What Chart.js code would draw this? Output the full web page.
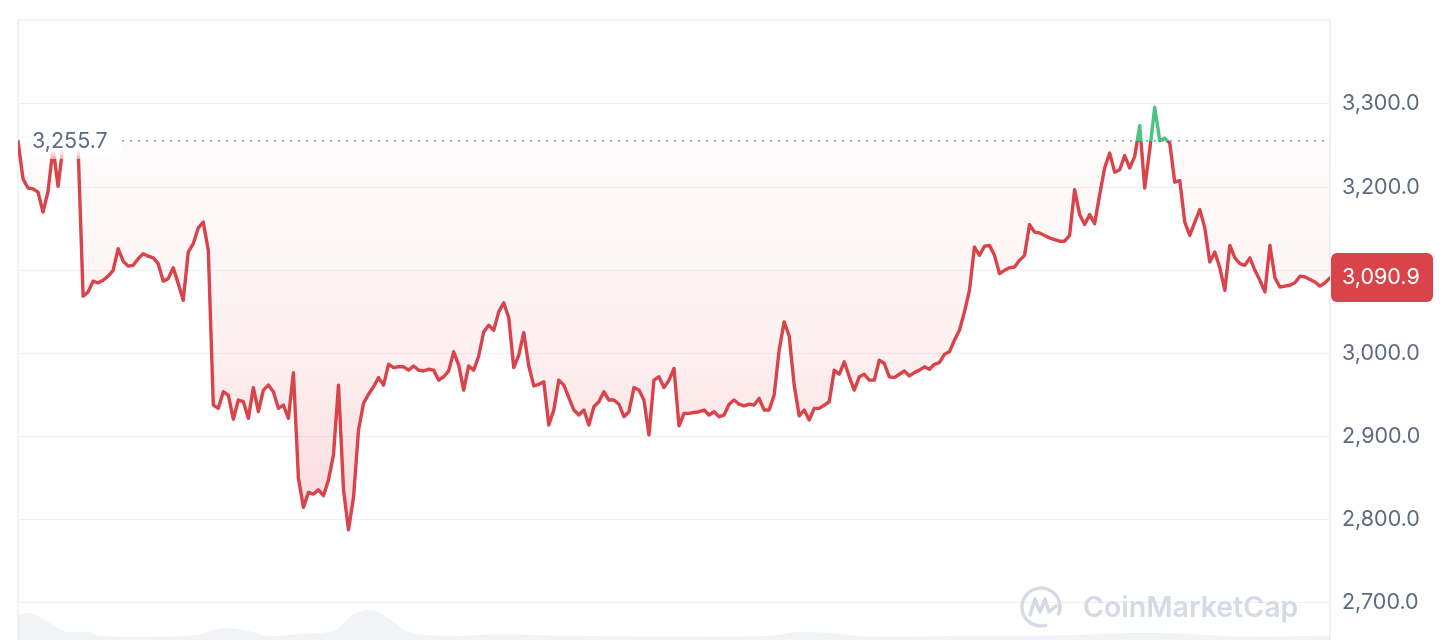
<!DOCTYPE html>
<html>
<head>
<meta charset="utf-8">
<script src="https://cdn.jsdelivr.net/npm/chart.js@4.4.1/dist/chart.umd.min.js"></script>
<style>
html,body{margin:0;padding:0;background:#ffffff;}
#wrap{width:1443px;height:640px;position:relative;}
</style>
</head>
<body>
<div id="wrap"><canvas id="c"></canvas></div>
<script>
// ---- data ----
const prices = [
 3255,3210,3199,3198,3194,3170,3195,3247,3201,3250,
 3252,3251,3248,3069,3074,3087,3085,3088,3093,3100,
 3126,3111,3105,3106,3114,3120,3117,3115,3108,3087,
 3090,3103,3084,3064,3122,3132,3151,3158,3124,2938,
 2934,2954,2950,2921,2944,2942,2922,2959,2930,2956,
 2962,2954,2934,2938,2922,2977,2850,2815,2833,2831,
 2836,2829,2848,2878,2962,2836,2788,2827,2908,2940,
 2951,2960,2971,2962,2987,2983,2984,2984,2980,2985,
 2980,2979,2981,2980,2968,2972,2979,3002,2986,2956,
 2985,2980,2997,3026,3034,3028,3050,3061,3043,2983,
 2998,3025,2985,2961,2963,2966,2914,2932,2968,2962,
 2947,2932,2926,2932,2914,2936,2942,2954,2944,2944,
 2939,2924,2930,2959,2956,2944,2902,2968,2972,2959,
 2968,2982,2913,2928,2928,2929,2930,2932,2926,2930,
 2924,2926,2939,2944,2939,2937,2939,2938,2946,2932,
 2932,2950,3004,3038,3021,2962,2925,2932,2920,2934,
 2934,2938,2942,2980,2975,2990,2972,2956,2972,2975,
 2968,2968,2992,2988,2972,2971,2975,2979,2973,2977,
 2980,2984,2981,2987,2989,2999,3002,3016,3028,3050,
 3076,3128,3118,3129,3130,3118,3096,3100,3103,3104,
 3112,3118,3155,3146,3145,3142,3139,3137,3135,3135,
 3142,3197,3167,3155,3167,3156,3191,3223,3241,3218,
 3221,3238,3223,3237,3274,3199,3245,3296,3256,3259,
 3253,3206,3208,3158,3142,3158,3173,3151,3110,3122,
 3103,3076,3130,3115,3108,3106,3115,3100,3088,3074,
 3130,3091,3080,3081,3082,3085,3093,3092,3089,3086,
 3081,3085,3090.9
];
const baselinePrice = 3255.7;
const lastPrice = 3090.9;
const yTicks = [2700, 2800, 2900, 3000, 3100, 3200, 3300];
const volumeIdx  = [0, 2, 4, 6, 8, 10, 14, 16, 26, 36, 39, 42, 46, 50, 56, 62, 64, 67, 70, 72, 75, 78, 86, 96, 110, 130, 150, 156, 162, 170, 190, 210, 217, 226, 234, 245, 262];
const volumeVals = [73, 78, 70, 52, 35, 23, 23, 12, 9, 15, 29, 35, 26, 12, 17, 23, 35, 73, 87, 81, 52, 23, 12, 17, 12, 10, 12, 23, 20, 10, 12, 14, 18, 20, 17, 10, 12];
const brandName = 'CoinMarketCap';

// ---- styling ----
const RED = '#d9434a';
const GREEN = '#4dc283';
const TICK_COLOR = '#5d6a80';
const FONT = 'Inter, "Noto Sans", sans-serif';
const fmt = v => v.toLocaleString('en-US', {minimumFractionDigits: 1, maximumFractionDigits: 1});

const pricePoints = prices.map((v, i) => ({x: i, y: v}));
const volumePoints = volumeIdx.map((i, k) => ({x: i, y: volumeVals[k]}));

function lineColor(ctx) {
  const ch = ctx.chart, ca = ch.chartArea;
  if (!ca) return RED;
  const yb = ch.scales.y.getPixelForValue(baselinePrice);
  const s = Math.min(Math.max((yb - ca.top) / (ca.bottom - ca.top), 0), 1);
  const g = ch.ctx.createLinearGradient(0, ca.top, 0, ca.bottom);
  g.addColorStop(0, GREEN); g.addColorStop(s, GREEN);
  g.addColorStop(s, RED); g.addColorStop(1, RED);
  return g;
}
function redFill(ctx) {
  const ch = ctx.chart, ca = ch.chartArea;
  if (!ca) return 'rgba(234,57,67,0.1)';
  const yb = ch.scales.y.getPixelForValue(baselinePrice);
  const g = ch.ctx.createLinearGradient(0, yb, 0, ca.bottom);
  g.addColorStop(0, 'rgba(234,57,67,0.02)');
  g.addColorStop(0.4, 'rgba(234,57,67,0.07)');
  g.addColorStop(1, 'rgba(234,57,67,0.26)');
  return g;
}

const decor = {
  id: 'decor',
  beforeDatasetsDraw(chart) {
    const {ctx, chartArea: ca, scales: {y}} = chart;
    ctx.save();
    // frame
    ctx.strokeStyle = '#eceef2';
    ctx.lineWidth = 1.5;
    ctx.beginPath();
    ctx.moveTo(ca.left, ca.bottom); ctx.lineTo(ca.left, ca.top);
    ctx.lineTo(ca.right, ca.top); ctx.lineTo(ca.right, ca.bottom);
    ctx.stroke();
    // watermark
    const wx = ca.right - 289, wy = ca.bottom - 33;
    ctx.strokeStyle = '#d6dae3';
    ctx.lineWidth = 3.5;
    ctx.lineCap = 'round'; ctx.lineJoin = 'round';
    ctx.beginPath();
    ctx.arc(wx, wy, 19, 0.42 * Math.PI, 2.12 * Math.PI);
    ctx.stroke();
    ctx.beginPath();
    ctx.moveTo(wx - 11, wy + 8);
    ctx.lineTo(wx - 6, wy - 8);
    ctx.lineTo(wx - 1, wy + 5);
    ctx.lineTo(wx + 4, wy - 8);
    ctx.lineTo(wx + 8, wy + 5);
    ctx.lineTo(wx + 15, wy - 1);
    ctx.stroke();
    ctx.fillStyle = '#d6dae3';
    ctx.font = '600 30px ' + FONT;
    const w = ctx.measureText(brandName).width;
    const fs = 30 * 215 / w;
    ctx.font = '600 ' + fs.toFixed(1) + 'px ' + FONT;
    ctx.textBaseline = 'alphabetic';
    ctx.textAlign = 'left';
    ctx.fillText(brandName, wx + 42, wy + 10);
    // dotted baseline
    const yb = y.getPixelForValue(baselinePrice);
    ctx.setLineDash([2, 6]);
    ctx.lineCap = 'butt';
    ctx.strokeStyle = '#9ea6b4';
    ctx.lineWidth = 1.6;
    ctx.beginPath();
    ctx.moveTo(ca.left, yb); ctx.lineTo(ca.right, yb);
    ctx.stroke();
    ctx.restore();
  },
  afterDatasetsDraw(chart) {
    const {ctx, chartArea: ca, scales: {y}} = chart;
    const yb = y.getPixelForValue(baselinePrice);
    ctx.save();
    const g = ctx.createLinearGradient(0, yb - 14, 0, yb + 18);
    g.addColorStop(0, 'rgba(255,255,255,1)');
    g.addColorStop(0.7, 'rgba(255,255,255,1)');
    g.addColorStop(1, 'rgba(255,255,255,0.6)');
    ctx.fillStyle = g;
    ctx.fillRect(ca.left + 7, yb - 14, 96, 32);
    ctx.fillStyle = TICK_COLOR;
    ctx.font = '21.5px ' + FONT;
    ctx.textBaseline = 'middle';
    ctx.textAlign = 'left';
    ctx.fillText(fmt(baselinePrice), ca.left + 14, yb + 1);
    ctx.restore();
  },
  afterDraw(chart) {
    const {ctx, chartArea: ca, scales: {y}} = chart;
    const py = y.getPixelForValue(lastPrice);
    ctx.save();
    ctx.fillStyle = '#d9444a';
    ctx.beginPath();
    ctx.roundRect(ca.right + 1, py - 25, 102, 49, 6);
    ctx.fill();
    ctx.fillStyle = '#ffffff';
    ctx.font = '21.5px ' + FONT;
    ctx.textBaseline = 'middle';
    ctx.textAlign = 'left';
    ctx.fillText(fmt(lastPrice), ca.right + 12, py);
    ctx.restore();
  }
};

new Chart(document.getElementById('c'), {
  type: 'line',
  data: {
    datasets: [
      {
        label: 'Price',
        data: pricePoints,
        yAxisID: 'y',
        borderColor: lineColor,
        backgroundColor: redFill,
        borderWidth: 3.4,
        pointRadius: 0,
        tension: 0,
        borderJoinStyle: 'round',
        borderCapStyle: 'round',
        fill: {target: {value: baselinePrice}, above: 'rgba(22,199,132,0.06)'},
        order: 1
      },
      {
        label: 'Volume',
        data: volumePoints,
        yAxisID: 'yv',
        borderWidth: 0,
        pointRadius: 0,
        tension: 0.4,
        backgroundColor: 'rgba(214,220,231,0.35)',
        fill: 'origin',
        order: 2
      }
    ]
  },
  options: {
    responsive: true,
    maintainAspectRatio: false,
    animation: false,
    layout: {padding: {left: 18, top: 20, right: 0, bottom: 0}},
    plugins: {legend: {display: false}, tooltip: {enabled: false}},
    scales: {
      x: {type: 'linear', min: 0, max: prices.length - 1, display: false},
      y: {
        position: 'right',
        min: 2655.5,
        max: 3401,
        afterBuildTicks: s => { s.ticks = yTicks.map(v => ({value: v})); },
        afterFit: s => { s.width = 113; s.paddingTop = 0; s.paddingBottom = 0; },
        grid: {color: '#eff1f4', lineWidth: 1, drawTicks: false},
        border: {display: false},
        ticks: {
          padding: 12,
          color: TICK_COLOR,
          font: {family: FONT, size: 21.5},
          callback: v => fmt(v)
        }
      },
      yv: {display: false, min: 0, max: 1800}
    }
  },
  plugins: [decor]
});
</script>
</body>
</html>
